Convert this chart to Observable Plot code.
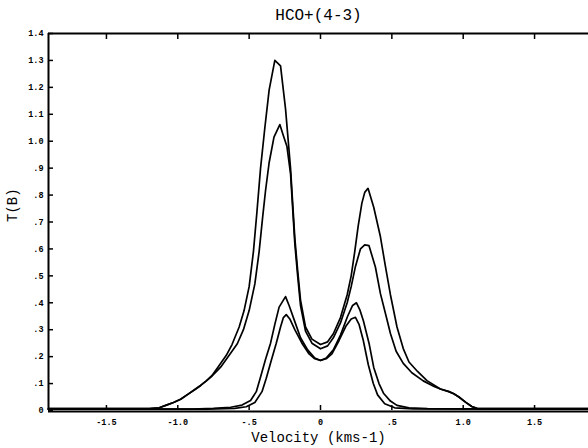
<!DOCTYPE html>
<html>
<head>
<meta charset="utf-8">
<script src="https://cdn.jsdelivr.net/npm/d3@7"></script>
<script src="https://cdn.jsdelivr.net/npm/@observablehq/plot@0.6"></script>
<style>
  html, body { margin: 0; padding: 0; background: #fff; }
  #chart svg { display: block; }
</style>
</head>
<body>
<div id="chart"></div>
<script>
const title = "HCO+(4-3)";
const xLabel = "Velocity (kms-1)";
const yLabel = "T(B)";

const xDomain = [-1.906, 1.878];
const yDomain = [0, 1.4];
const xTicks = [-1.5, -1.0, -0.5, 0, 0.5, 1.0, 1.5];
const yTicks = [0, 0.1, 0.2, 0.3, 0.4, 0.5, 0.6, 0.7, 0.8, 0.9, 1.0, 1.1, 1.2, 1.3, 1.4];

// Curve A: tallest profile
const vA = [-1.906, -1.2, -1.13, -1.08, -1.03, -0.98, -0.93, -0.88, -0.84, -0.80, -0.76, -0.72, -0.66, -0.62, -0.57, -0.536, -0.50, -0.47, -0.445, -0.42, -0.39, -0.36, -0.32, -0.28, -0.245, -0.21, -0.18, -0.16, -0.14, -0.105, -0.06, 0, 0.05, 0.09, 0.14, 0.187, 0.215, 0.24, 0.264, 0.29, 0.31, 0.333, 0.373, 0.42, 0.455, 0.49, 0.536, 0.58, 0.62, 0.68, 0.746, 0.84, 0.90, 0.934, 0.97, 1.016, 1.06, 1.10, 1.878];
const tA = [0.007, 0.007, 0.01, 0.02, 0.03, 0.042, 0.06, 0.078, 0.093, 0.11, 0.13, 0.16, 0.205, 0.245, 0.31, 0.37, 0.46, 0.59, 0.74, 0.90, 1.05, 1.19, 1.30, 1.28, 1.12, 0.90, 0.64, 0.52, 0.41, 0.31, 0.265, 0.245, 0.255, 0.285, 0.345, 0.43, 0.50, 0.59, 0.685, 0.77, 0.81, 0.825, 0.755, 0.645, 0.535, 0.43, 0.31, 0.23, 0.18, 0.145, 0.111, 0.08, 0.07, 0.062, 0.05, 0.031, 0.015, 0.007, 0.007];

// Curve B: second profile
const vB = [-1.906, -1.2, -1.13, -1.08, -1.03, -0.98, -0.93, -0.88, -0.84, -0.80, -0.76, -0.72, -0.70, -0.64, -0.583, -0.54, -0.50, -0.46, -0.43, -0.405, -0.385, -0.36, -0.326, -0.285, -0.26, -0.235, -0.21, -0.18, -0.16, -0.14, -0.105, -0.06, 0, 0.05, 0.09, 0.14, 0.187, 0.215, 0.245, 0.28, 0.31, 0.34, 0.385, 0.42, 0.46, 0.49, 0.53, 0.58, 0.64, 0.72, 0.80, 0.84, 0.90, 0.934, 0.97, 1.016, 1.06, 1.10, 1.878];
const tB = [0.007, 0.007, 0.01, 0.02, 0.03, 0.042, 0.06, 0.078, 0.093, 0.11, 0.128, 0.15, 0.161, 0.205, 0.248, 0.30, 0.371, 0.47, 0.59, 0.72, 0.817, 0.92, 1.015, 1.062, 1.02, 0.98, 0.88, 0.62, 0.50, 0.39, 0.295, 0.25, 0.229, 0.24, 0.27, 0.325, 0.40, 0.46, 0.535, 0.60, 0.615, 0.612, 0.532, 0.434, 0.35, 0.286, 0.22, 0.175, 0.14, 0.11, 0.088, 0.08, 0.07, 0.062, 0.05, 0.031, 0.015, 0.007, 0.007];

// Curve C: third profile
const vC = [-1.906, -0.9, -0.75, -0.63, -0.55, -0.49, -0.45, -0.42, -0.385, -0.35, -0.32, -0.29, -0.245, -0.22, -0.18, -0.14, -0.09, -0.04, 0, 0.04, 0.09, 0.14, 0.19, 0.225, 0.252, 0.275, 0.30, 0.34, 0.373, 0.41, 0.443, 0.49, 0.536, 0.62, 0.75, 1.878];
const tC = [0.005, 0.005, 0.008, 0.012, 0.02, 0.037, 0.07, 0.124, 0.19, 0.25, 0.32, 0.384, 0.423, 0.39, 0.33, 0.27, 0.225, 0.195, 0.186, 0.195, 0.225, 0.28, 0.35, 0.39, 0.40, 0.375, 0.334, 0.25, 0.16, 0.10, 0.063, 0.035, 0.019, 0.01, 0.007, 0.005];

// Curve D: lowest profile
const vD = [-1.906, -0.8, -0.6, -0.52, -0.46, -0.41, -0.38, -0.345, -0.31, -0.28, -0.26, -0.24, -0.215, -0.18, -0.13, -0.08, -0.04, 0, 0.04, 0.08, 0.13, 0.18, 0.215, 0.245, 0.27, 0.30, 0.335, 0.37, 0.40, 0.45, 0.52, 0.65, 1.878];
const tD = [0.005, 0.005, 0.008, 0.014, 0.03, 0.07, 0.12, 0.186, 0.25, 0.31, 0.345, 0.356, 0.34, 0.30, 0.25, 0.21, 0.192, 0.186, 0.192, 0.21, 0.26, 0.315, 0.34, 0.346, 0.32, 0.26, 0.17, 0.10, 0.058, 0.025, 0.01, 0.006, 0.005];

const series = [["A", vA, tA], ["B", vB, tB], ["C", vC, tC], ["D", vD, tD]];
const rows = series.flatMap(([k, vs, ts]) => vs.map((v, i) => ({curve: k, v, t: ts[i]})));

const fmt = d => d === 0 ? "0" : d.toFixed(1).replace(/^(-?)0\./, "$1.");

const W = 588, H = 448, mL = 48, mR = 0, mT = 33, mB = 38;
const fw = W - mL - mR, fh = H - mT - mB;

const chart = Plot.plot({
  width: W, height: H,
  marginLeft: mL, marginRight: mR, marginTop: mT, marginBottom: mB,
  x: {domain: xDomain},
  y: {domain: yDomain},
  style: {fontFamily: "Liberation Mono, DejaVu Sans Mono, monospace", fontSize: "8.5px", color: "#000", background: "#fff"},
  marks: [
    Plot.axisX({ticks: xTicks, tickFormat: fmt, tickSize: 0, tickPadding: 8, fontWeight: "bold", label: null}),
    Plot.axisY({ticks: yTicks, tickFormat: fmt, tickSize: 0, tickPadding: 5, fontWeight: "bold", label: null}),
    Plot.tickX(xTicks, {x: d => d, insetTop: fh - 5, strokeWidth: 1.5}),
    Plot.tickX(xTicks, {x: d => d, insetBottom: fh - 6, strokeWidth: 1.5}),
    Plot.tickY(yTicks, {y: d => d, insetRight: fw - 5, strokeWidth: 1.5}),
    Plot.ruleX([xDomain[0]], {strokeWidth: 2}),
    Plot.ruleY([yDomain[0]], {strokeWidth: 2.2, dy: 1}),
    Plot.ruleY([yDomain[1]], {strokeWidth: 2}),
    Plot.line(rows, {x: "v", y: "t", z: "curve", stroke: "#000", strokeWidth: 1.7, strokeLinejoin: "round"}),
    Plot.text([title], {frameAnchor: "top", lineAnchor: "middle", dy: -19, fontSize: 16, text: d => d}),
    Plot.text([xLabel], {frameAnchor: "bottom", lineAnchor: "middle", dy: 27, fontSize: 14, text: d => d}),
    Plot.text([yLabel], {frameAnchor: "left", lineAnchor: "middle", dx: -36, rotate: -90, fontSize: 14, text: d => d})
  ]
});
document.getElementById("chart").appendChild(chart);
</script>
</body>
</html>
